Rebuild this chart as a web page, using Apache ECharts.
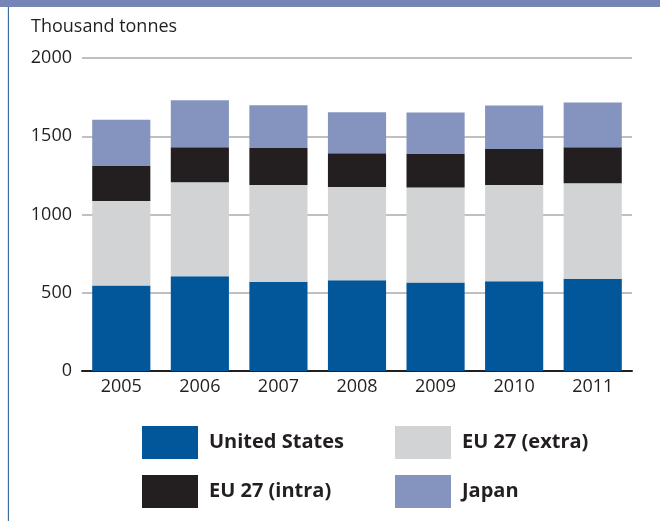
<!DOCTYPE html>
<html>
<head>
<meta charset="utf-8">
<script src="https://cdn.jsdelivr.net/npm/echarts@6/dist/echarts.min.js"></script>
<style>
html,body{margin:0;padding:0;background:#fff;}
#chart{width:660px;height:521px;}
</style>
</head>
<body>
<div id="chart"></div>
<script>
const years = ['2005','2006','2007','2008','2009','2010','2011'];
const unitedStates = [546, 605, 571, 580, 565, 573, 590];
const eu27Extra = [540, 601, 618, 596, 607, 616, 609];
const eu27Intra = [224, 223, 236, 215, 215, 230, 230];
const japan = [296, 301, 273, 262, 264, 277, 286];
const yTicks = [0, 500, 1000, 1500, 2000];

const FONT = '"Open Sans", sans-serif';
const TEXT = '#231f20';
const colors = {
  'United States': '#02569a',
  'EU 27 (extra)': '#d1d3d4',
  'EU 27 (intra)': '#231f20',
  'Japan': '#8594bf'
};

const chart = echarts.init(document.getElementById('chart'), null, {renderer: 'canvas'});

function bar(name, data) {
  return {
    name: name,
    type: 'bar',
    stack: 'total',
    data: data,
    barCategoryGap: '26%',
    itemStyle: {color: colors[name]},
    emphasis: {disabled: true}
  };
}

const legendCommon = {
  orient: 'vertical',
  top: 426,
  itemWidth: 56,
  itemHeight: 33,
  itemGap: 16,
  icon: 'rect',
  selectedMode: false,
  textStyle: {fontFamily: FONT, fontSize: 20, fontWeight: 'bold', color: TEXT, padding: [0, 0, 0, 6]},
  padding: 0
};

chart.setOption({
  animation: false,
  backgroundColor: '#fff',
  textStyle: {fontFamily: FONT},
  title: {
    text: 'Thousand tonnes',
    left: 31,
    top: 18,
    padding: 0,
    textStyle: {fontFamily: FONT, fontSize: 18, fontWeight: 'normal', color: TEXT}
  },
  graphic: [
    {type: 'rect', left: 0, top: 0, shape: {width: 660, height: 7}, style: {fill: '#7585b8'}, silent: true},
    {type: 'rect', left: 8, top: 7, shape: {width: 1, height: 514}, style: {fill: '#3b6e9f'}, silent: true},
    {type: 'rect', left: 7, top: 7, shape: {width: 1, height: 514}, style: {fill: '#e3e5ea'}, silent: true}
  ],
  legend: [
    Object.assign({left: 142, data: ['United States', 'EU 27 (intra)']}, legendCommon),
    Object.assign({left: 395, data: ['EU 27 (extra)', 'Japan']}, legendCommon)
  ],
  grid: {left: 82, right: 28, top: 58, bottom: 150, containLabel: false},
  xAxis: {
    type: 'category',
    data: years,
    axisTick: {show: false},
    axisLine: {lineStyle: {color: TEXT, width: 2}},
    axisLabel: {fontFamily: FONT, fontSize: 18, color: TEXT, margin: 7}
  },
  yAxis: {
    type: 'value',
    min: yTicks[0],
    max: yTicks[yTicks.length - 1],
    interval: yTicks[1] - yTicks[0],
    axisLine: {show: false},
    axisTick: {show: false},
    axisLabel: {fontFamily: FONT, fontSize: 18, color: TEXT, margin: 10, formatter: function (v) { return String(v); }},
    splitLine: {lineStyle: {color: '#ababab', width: 1.5}}
  },
  series: [
    bar('United States', unitedStates),
    bar('EU 27 (extra)', eu27Extra),
    bar('EU 27 (intra)', eu27Intra),
    bar('Japan', japan)
  ]
});
</script>
</body>
</html>
